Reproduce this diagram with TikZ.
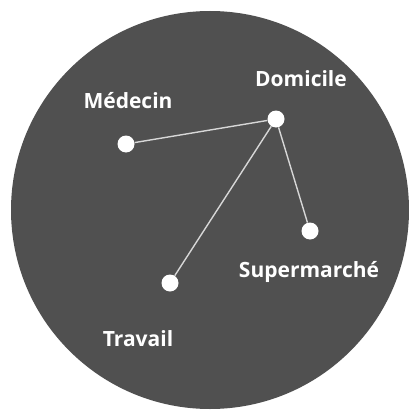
\documentclass[tikz,border=0pt]{standalone}
\usepackage{fontspec}
\setmainfont{Open Sans}
\definecolor{disc}{RGB}{80,80,80}
\definecolor{link}{RGB}{215,215,215}
\tikzset{
  place/.style={circle,fill=white,draw=none,inner sep=0pt,minimum size=17pt},
  lbl/.style={text=white,font=\fontsize{21}{23}\selectfont\bfseries,inner sep=0pt},
  road/.style={draw=link,line width=1.4pt}
}
\begin{document}
\begin{tikzpicture}[x=1pt,y=-1pt]
\useasboundingbox (0,0) rectangle (408,412);
\fill[disc] (210,210) circle (199);
\node[place] (dom) at (276,119) {};
\node[place] (med) at (126,144) {};
\node[place] (sup) at (310,231) {};
\node[place] (tra) at (170,283) {};
\draw[road] (dom) -- (med);
\draw[road] (dom) -- (sup);
\draw[road] (dom) -- (tra);
\node[lbl] (ldom) at (301,79) {Domicile};
\node[lbl] (lmed) at (128,101) {Médecin};
\node[lbl] (lsup) at (309,272) {Supermarché};
\node[lbl] (ltra) at (138,339) {Travail};
\end{tikzpicture}
\end{document}
